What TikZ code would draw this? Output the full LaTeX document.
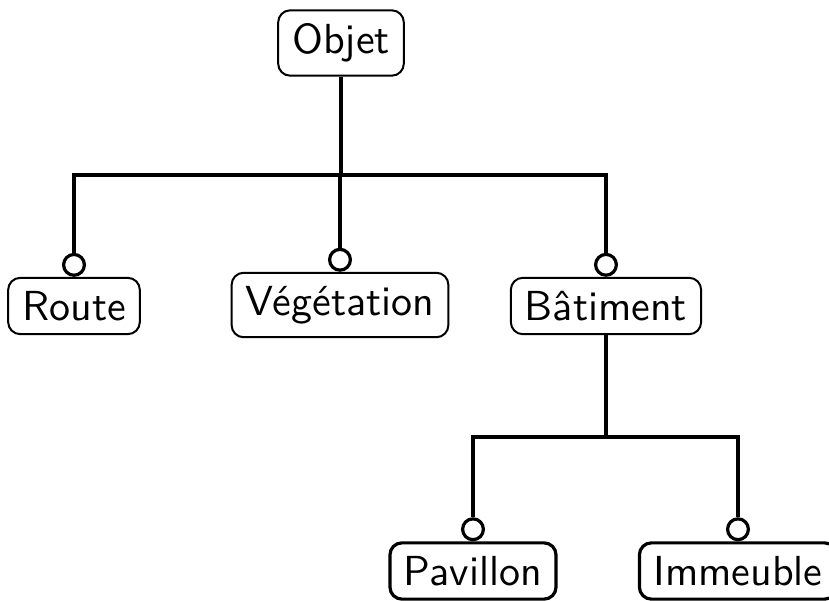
\documentclass[tikz,border=0pt]{standalone}
\usepackage{tikz}
\usetikzlibrary{positioning}
\renewcommand{\familydefault}{\sfdefault}

\begin{document}
\begin{tikzpicture}[x=0.25pt,y=-0.25pt,
		classe/.style={draw,rounded corners=3pt,line width=0.5pt,inner xsep=3.5pt,minimum height=14pt,font=\sffamily\fontsize{10.5}{12}\selectfont},
		feuille/.style={classe,line width=0.8pt},
		rond/.style={circle,draw,line width=0.8pt,minimum size=5.2pt,inner sep=0pt},
		lien/.style={line width=0.9pt}]
	\useasboundingbox (0,0) rectangle (829,601);
	% classes
	\node[classe] (objet) at (341,43) {Objet};
	\node[classe] (route) at (74,306) {Route};
	\node[classe] (veget) at (340,305) {Végétation};
	\node[classe] (batim) at (606,306) {Bâtiment};
	\node[feuille] (pavil) at (473,571) {Pavillon};
	\node[feuille] (immeu) at (738,571) {Immeuble};
	% ronds d'heritage
	\node[rond,above=0pt of route] (rroute) {};
	\node[rond,above=0pt of veget] (rveget) {};
	\node[rond,above=0pt of batim] (rbatim) {};
	\node[rond,above=0pt of pavil] (rpavil) {};
	\node[rond,above=0pt of immeu] (rimmeu) {};
	\coordinate (jobjet) at (341,175);
	\coordinate (jbatim) at (606,437);
	% liens
	\draw[lien] (objet.south) -- (jobjet);
	\draw[lien] (jobjet) -| (rroute.north);
	\draw[lien] (jobjet) -- (jobjet -| rveget.north) -- (rveget.north);
	\draw[lien] (jobjet) -| (rbatim.north);
	\draw[lien] (batim.south) -- (jbatim);
	\draw[lien] (jbatim) -| (rpavil.north);
	\draw[lien] (jbatim) -| (rimmeu.north);
\end{tikzpicture}
\end{document}
